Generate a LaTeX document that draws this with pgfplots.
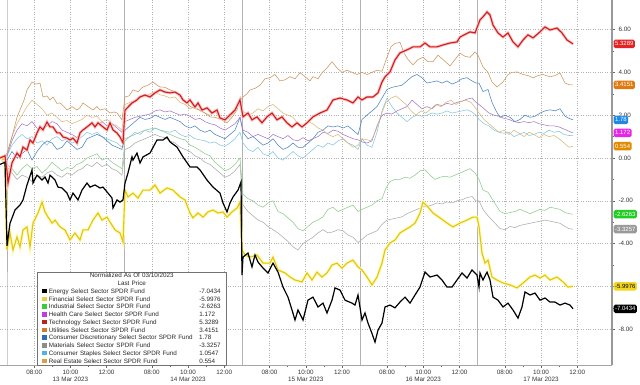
\documentclass[border=0pt]{standalone}
\usepackage{pgfplots}
\pgfplotsset{compat=1.18}
\usepackage{fontspec}
\setmainfont{Liberation Sans}
\definecolor{cEn}{HTML}{000000}
\definecolor{cFi}{HTML}{E2C411}
\definecolor{cIn}{HTML}{8CCB8C}
\definecolor{cHC}{HTML}{A676C8}
\definecolor{cTe}{HTML}{CC1F1F}
\definecolor{cUt}{HTML}{C9955C}
\definecolor{cCD}{HTML}{4A82C6}
\definecolor{cMa}{HTML}{ABABAB}
\definecolor{cCS}{HTML}{86C6E2}
\definecolor{cRE}{HTML}{D8B878}
% legend / tag colours
\definecolor{sEn}{HTML}{000000}
\definecolor{sFi}{HTML}{E8D040}
\definecolor{sIn}{HTML}{3CCB3C}
\definecolor{sHC}{HTML}{C03CE0}
\definecolor{sTe}{HTML}{C0201A}
\definecolor{sUt}{HTML}{D07A30}
\definecolor{sCD}{HTML}{2C6FB8}
\definecolor{sMa}{HTML}{8C8C8C}
\definecolor{sCS}{HTML}{50B4E0}
\definecolor{sRE}{HTML}{D8A040}
\definecolor{tTe}{HTML}{E42323}
\definecolor{tUt}{HTML}{E07A10}
\definecolor{tCD}{HTML}{1E88E5}
\definecolor{tHC}{HTML}{E626E6}
\definecolor{tRE}{HTML}{E08A00}
\definecolor{tIn}{HTML}{22CC22}
\definecolor{tMa}{HTML}{9A9A9A}
\definecolor{tFi}{HTML}{F2D622}
\newcommand{\sq}[1]{\textcolor{#1}{\rule{4.6pt}{4.6pt}}}
\begin{document}
\begin{tikzpicture}
\begin{axis}[
  at={(0pt,0pt)}, anchor=south west,
  scale only axis, width=612pt, height=365pt,
  xmin=0, xmax=612, ymin=-9.67, ymax=7.38,
  axis x line*=bottom, axis y line*=right,
  x axis line style={draw=black!35, line width=0.5pt, -},
  y axis line style={draw=black!40, line width=1.8pt, -},
  clip=false,
  xtick={34.2,70.4,106.6,151.8,188.0,224.2,269.5,305.7,341.9,387.1,423.3,459.5,504.8,541.0,577.2},
  xticklabels={08:00,10:00,12:00,08:00,10:00,12:00,08:00,10:00,12:00,08:00,10:00,12:00,08:00,10:00,12:00},
  minor xtick={52.3,88.5,170,206,287.6,323.8,405.2,441.4,522.9,559.1},
  ytick={-8,-6,-4,-2,0,2,4,6}, minor y tick num=1,
  yticklabels={-8.00,,-4.00,-2.00,0.00,2.00,4.00,6.00},
  tick align=outside, major tick length=2.5pt, minor tick length=1.5pt,
  tick style={black!60, line width=0.4pt},
  xmajorgrids, ymajorgrids,
  major grid style={black!30, dotted, line width=0.6pt},
  tick label style={font=\fontsize{6.3}{7}\selectfont, text=black!80},
  xticklabel style={yshift=1pt},
  yticklabel style={xshift=0.5pt},
]
% day separators
\draw[black!30, line width=0.7pt] (axis cs:7,7.38) -- (axis cs:7,-9.67) -- ++(0,-19pt);
\draw[black!30, line width=0.7pt] (axis cs:124.7,7.38) -- (axis cs:124.7,-9.67) -- ++(0,-19pt);
\draw[black!30, line width=0.7pt] (axis cs:242.3,7.38) -- (axis cs:242.3,-9.67) -- ++(0,-19pt);
\draw[black!30, line width=0.7pt] (axis cs:359.9,7.38) -- (axis cs:359.9,-9.67) -- ++(0,-19pt);
\draw[black!30, line width=0.7pt] (axis cs:477.6,7.38) -- (axis cs:477.6,-9.67) -- ++(0,-19pt);
% Materials
\addplot[cMa, line width=0.55pt] coordinates {
(0,0)(7,-0.4)(12,-0.7)(17,-1.0)(22,-0.8)(27,-0.9)(32,-1.1)(37,-0.8)(42,-0.9)(47,-0.7)(52,-0.6)(57,-0.8)(62,-0.9)(67,-0.7)(72,-0.8)(77,-0.6)(82,-0.5)(87,-0.3)(92,-0.4)(97,-0.2)(102,-0.4)(107,-0.3)(112,-0.5)(117,-0.6)(122,-0.8)
(125,0.4)(130,0.5)(135,0.7)(140,0.8)(145,0.9)(150,1.0)(155,1.1)(160,1.0)(165,0.95)(170,0.8)(175,0.7)(180,0.5)(185,0.4)(190,0.3)(195,0.1)(200,0.0)(205,-0.2)(210,-0.3)(215,-0.5)(220,-0.7)(225,-0.9)(230,-0.8)(235,-0.6)(240,-0.3)
(243,-2.2)(248,-2.5)(253,-2.7)(258,-2.9)(263,-3.0)(268,-3.2)(273,-3.35)(278,-3.5)(283,-3.7)(288,-3.9)(293,-4.15)(298,-4.3)(303,-4.0)(308,-3.85)(313,-3.7)(318,-3.5)(323,-3.35)(328,-3.5)(333,-3.45)(338,-3.35)(343,-3.4)(348,-3.6)(353,-3.7)(358,-3.95)
(362,-3.8)(367,-3.6)(372,-3.5)(377,-3.4)(382,-3.1)(387,-2.9)(392,-2.85)(397,-2.8)(402,-2.75)(407,-2.6)(412,-2.5)(417,-2.4)(422,-2.3)(427,-2.25)(432,-2.2)(437,-2.1)(442,-2.15)(447,-2.05)(452,-2.1)(457,-2.0)(462,-1.95)(467,-1.85)(472,-1.8)(476,-2.0)
(479,-2.0)(483,-2.4)(488,-2.7)(492,-2.9)(496,-3.1)(500,-3.3)(505,-3.35)(510,-3.2)(515,-3.25)(520,-3.15)(525,-3.1)(530,-3.05)(535,-3.0)(540,-2.95)(545,-2.9)(550,-2.95)(555,-3.0)(560,-3.05)(565,-3.2)(569,-3.3)(573,-3.3257)};
% Industrial
\addplot[cIn, line width=0.55pt] coordinates {
(0,0)(7,-0.3)(12,-0.5)(17,-0.8)(22,-0.5)(27,-0.3)(32,-0.5)(37,-0.4)(42,-0.7)(47,-0.5)(52,-0.2)(57,-0.4)(62,-0.6)(67,-0.45)(72,-0.5)(77,-0.3)(82,-0.2)(87,0.0)(92,0.1)(97,0.2)(102,-0.1)(107,0.0)(112,-0.2)(117,-0.35)(122,-0.5)
(125,0.8)(130,1.0)(135,1.1)(140,1.2)(145,1.3)(150,1.35)(155,1.4)(160,1.3)(165,1.2)(170,1.1)(175,1.0)(180,0.9)(185,0.85)(190,0.6)(195,0.5)(200,0.35)(205,0.2)(210,0.1)(215,-0.2)(220,-0.4)(225,-0.6)(230,-0.5)(235,-0.3)(240,0.0)
(243,-1.7)(248,-1.9)(253,-2.0)(258,-2.2)(263,-2.3)(268,-2.1)(273,-2.0)(278,-2.5)(283,-2.6)(288,-2.8)(293,-3.0)(298,-3.3)(303,-3.4)(308,-3.2)(313,-3.0)(318,-2.9)(323,-2.75)(328,-2.4)(333,-2.3)(338,-2.5)(343,-2.4)(348,-2.3)(353,-2.2)(358,-2.5)
(362,-2.4)(367,-2.3)(372,-2.2)(377,-2.0)(382,-1.9)(386,-1.4)(390,-1.1)(395,-1.0)(400,-1.0)(405,-0.9)(410,-0.95)(415,-0.8)(420,-0.6)(425,-0.55)(430,-0.8)(435,-1.0)(440,-0.9)(445,-0.85)(450,-0.9)(455,-0.8)(460,-0.7)(465,-0.6)(470,-0.5)(475,-0.7)
(479,-1.0)(483,-1.5)(488,-1.6)(492,-1.9)(496,-2.2)(500,-2.5)(505,-2.6)(510,-2.55)(515,-2.5)(520,-2.4)(525,-2.5)(530,-2.6)(535,-2.5)(540,-2.4)(545,-2.45)(550,-2.3)(555,-2.35)(560,-2.4)(565,-2.55)(569,-2.6)(573,-2.6263)};
% Consumer Staples
\addplot[cCS, line width=0.55pt] coordinates {
(0,0)(7,0.1)(12,0.6)(17,0.9)(22,1.1)(27,0.9)(32,1.0)(37,0.7)(42,0.8)(47,0.6)(52,0.9)(57,1.0)(62,0.8)(67,0.9)(72,0.7)(77,0.8)(82,1.0)(87,1.2)(92,1.1)(97,1.2)(102,1.0)(107,0.9)(112,0.8)(117,0.7)(122,0.5)
(125,0.9)(130,1.0)(135,1.2)(140,1.1)(145,1.3)(150,1.2)(155,1.4)(160,1.3)(165,1.25)(170,1.2)(175,1.3)(180,1.1)(185,1.0)(190,1.05)(195,0.9)(200,0.85)(205,0.8)(210,0.7)(215,0.75)(220,0.6)(225,0.55)(230,0.7)(235,0.9)(240,1.2)
(243,0.7)(248,0.4)(253,0.3)(258,0.5)(263,0.2)(268,0.1)(273,0.3)(278,0.0)(283,-0.1)(288,0.1)(293,0.3)(298,0.1)(303,0.0)(308,0.2)(313,0.4)(318,0.6)(323,0.5)(328,0.7)(333,0.6)(338,0.8)(343,0.9)(348,0.7)(353,0.6)(358,0.4)
(362,0.9)(367,0.6)(372,0.5)(377,1.2)(382,2.2)(387,2.8)(392,2.4)(397,2.1)(402,1.9)(407,1.7)(412,1.9)(417,2.0)(422,1.95)(427,2.0)(432,2.1)(437,2.05)(442,2.1)(447,2.2)(452,2.1)(457,2.15)(462,2.2)(467,2.25)(472,2.15)(476,2.0)
(479,1.8)(484,1.6)(489,1.5)(494,1.3)(499,1.2)(504,1.15)(509,1.2)(514,1.0)(519,1.1)(524,1.2)(529,1.05)(534,1.1)(539,1.2)(544,1.15)(549,1.3)(554,1.2)(559,1.25)(564,1.1)(569,1.05)(573,1.0547)};
% Consumer Discretionary
\addplot[cCD, line width=0.55pt] coordinates {
(0,0)(7,-0.1)(12,0.3)(17,0.0)(22,0.2)(27,0.4)(32,-0.1)(37,0.3)(42,0.6)(47,0.8)(52,0.7)(57,0.4)(62,0.5)(67,0.8)(72,0.6)(77,0.4)(82,0.5)(87,0.9)(92,1.0)(97,1.1)(102,1.0)(107,0.8)(112,0.6)(117,0.5)(122,0.4)
(125,1.3)(130,1.5)(135,1.7)(140,1.9)(145,1.8)(150,1.85)(155,2.0)(160,1.9)(165,1.8)(170,1.9)(175,1.8)(180,1.7)(185,1.5)(190,1.4)(195,1.5)(200,1.3)(205,1.2)(210,1.3)(215,1.1)(220,1.0)(225,0.9)(230,1.1)(235,1.3)(240,1.9)
(243,1.2)(248,0.9)(253,1.0)(258,0.8)(263,0.6)(268,0.7)(273,0.9)(278,0.6)(283,0.4)(288,0.5)(293,0.7)(298,0.5)(303,0.5)(308,0.7)(313,0.9)(318,1.2)(323,1.3)(328,1.5)(333,1.45)(338,1.5)(343,1.4)(348,1.5)(353,1.3)(358,1.1)
(362,1.8)(367,2.0)(372,2.2)(377,2.4)(382,2.8)(387,3.2)(392,3.3)(397,3.35)(402,3.4)(407,3.6)(412,3.8)(417,3.9)(422,3.75)(427,3.5)(432,3.55)(437,3.6)(442,3.5)(447,3.6)(452,3.45)(457,3.55)(462,3.7)(467,3.75)(472,3.6)(476,3.5)
(479,3.5)(483,3.1)(488,3.2)(492,2.6)(496,2.2)(500,1.9)(505,2.0)(510,1.9)(515,1.7)(520,1.8)(525,2.0)(530,1.9)(535,1.95)(540,2.1)(545,2.2)(550,2.25)(555,2.2)(560,2.3)(565,1.95)(569,1.85)(573,1.78)};
% Health Care
\addplot[cHC, line width=0.55pt] coordinates {
(0,0)(7,0.1)(12,0.8)(17,1.3)(22,1.6)(27,1.5)(32,1.7)(37,1.4)(42,1.3)(47,1.5)(52,1.7)(57,1.6)(62,1.3)(67,1.2)(72,1.1)(77,0.95)(82,1.3)(87,1.5)(92,1.6)(97,1.5)(102,1.7)(107,1.5)(112,1.6)(117,1.4)(122,1.2)
(125,1.7)(130,1.8)(135,1.9)(140,1.95)(145,2.0)(150,2.05)(155,2.2)(160,2.25)(165,2.15)(170,2.2)(175,2.1)(180,2.0)(185,2.05)(190,1.95)(195,1.8)(200,1.85)(205,1.7)(210,1.6)(215,1.55)(220,1.4)(225,1.3)(230,1.45)(235,1.6)(240,1.9)
(243,1.3)(248,1.2)(253,1.0)(258,1.1)(263,1.0)(268,0.9)(273,1.1)(278,1.0)(283,0.9)(288,1.05)(293,0.85)(298,0.8)(303,0.95)(308,0.8)(313,0.9)(318,1.0)(323,1.2)(328,1.15)(333,1.3)(338,1.25)(343,1.1)(348,1.0)(353,0.9)(358,0.85)
(362,0.75)(367,0.7)(372,0.8)(377,1.5)(382,2.0)(387,2.1)(392,2.05)(397,2.2)(402,2.3)(407,2.4)(412,2.7)(417,2.5)(422,2.3)(427,2.4)(432,2.3)(437,2.5)(442,2.45)(447,2.55)(452,2.5)(457,2.6)(462,2.65)(467,2.75)(472,2.8)(476,2.6)
(479,2.5)(484,2.3)(489,2.1)(494,2.0)(499,1.95)(504,1.85)(509,1.8)(514,1.7)(519,1.65)(524,1.7)(529,1.65)(534,1.7)(539,1.6)(544,1.55)(549,1.5)(554,1.5)(559,1.45)(564,1.35)(569,1.25)(573,1.172)};
% Real Estate
\addplot[cRE, line width=0.55pt] coordinates {
(0,0)(7,0.2)(12,1.0)(17,1.6)(22,2.0)(27,2.4)(32,2.7)(37,2.5)(42,2.3)(47,2.0)(52,2.1)(57,1.9)(62,1.7)(67,1.75)(72,1.6)(77,1.7)(82,1.8)(87,2.0)(92,1.9)(97,1.95)(102,1.7)(107,1.8)(112,1.6)(117,1.5)(122,1.3)
(125,2.5)(130,2.6)(135,2.7)(140,2.9)(145,2.85)(150,3.0)(155,3.1)(160,2.95)(165,2.9)(170,2.8)(175,2.85)(180,2.6)(185,2.5)(190,2.3)(195,2.4)(200,2.2)(205,2.1)(210,2.0)(215,2.15)(220,1.9)(225,1.75)(230,1.9)(235,2.2)(240,2.6)
(243,2.2)(248,2.0)(253,2.1)(258,2.3)(263,2.2)(268,2.4)(273,2.5)(278,2.3)(283,2.1)(288,2.0)(293,1.9)(298,1.6)(303,1.5)(308,1.7)(313,1.6)(318,1.4)(323,1.3)(328,1.1)(333,1.0)(338,1.1)(343,0.9)(348,0.7)(353,0.5)(358,0.6)
(362,0.9)(367,0.85)(371,0.8)(376,1.3)(381,2.0)(386,2.6)(391,2.8)(396,2.9)(401,2.7)(406,2.5)(411,2.2)(416,2.0)(421,2.2)(426,2.1)(431,2.3)(436,2.5)(441,2.4)(446,2.6)(451,2.7)(456,2.5)(461,2.65)(466,2.7)(471,2.6)(476,2.3)
(479,2.1)(484,1.8)(489,1.6)(494,1.4)(499,1.2)(504,1.3)(509,1.1)(514,1.3)(519,1.15)(524,1.0)(529,1.2)(534,1.1)(539,0.95)(544,1.1)(549,1.0)(554,1.05)(559,0.9)(564,0.7)(569,0.5)(573,0.554)};
% Utilities
\addplot[cUt, line width=0.55pt] coordinates {
(0,0)(7,0.2)(12,1.0)(17,1.9)(20,2.24)(24,2.7)(27,3.18)(32,3.55)(36,3.45)(40,3.5)(43,2.85)(47,2.9)(50,2.71)(53,2.85)(57,2.55)(60,2.57)(64,2.4)(67,2.24)(72,2.4)(77,2.24)(80,2.35)(83,2.57)(88,2.4)(93,2.24)(97,2.4)(100,2.24)(105,2.3)(110,2.1)(114,2.15)(117,2.1)(122,1.78)
(125,2.85)(129,2.9)(133,3.18)(138,3.1)(143,3.32)(148,3.4)(153,3.55)(157,3.4)(160,3.32)(165,3.3)(170,3.18)(175,3.1)(180,2.85)(185,2.7)(190,2.41)(195,2.3)(200,2.24)(205,2.1)(210,1.92)(215,1.9)(220,1.82)(227,1.64)(232,1.9)(237,2.24)(240,2.7)
(243,2.85)(247,3.0)(250,3.18)(255,3.25)(260,3.4)(265,3.7)(270,3.75)(275,3.9)(280,3.6)(285,3.65)(290,3.8)(295,3.7)(300,3.98)(305,3.8)(310,3.6)(313,3.8)(318,3.7)(322,3.98)(327,4.2)(332,4.5)(337,4.2)(342,4.0)(347,4.1)(352,4.0)(357,3.9)
(362,4.0)(367,3.9)(372,4.0)(377,4.1)(382,4.05)(387,4.7)(391,5.2)(395,5.35)(400,5.4)(404,4.9)(408,4.6)(413,4.35)(418,4.6)(423,4.7)(428,4.5)(433,4.5)(438,4.8)(443,4.6)(450,4.3)(455,4.6)(460,4.9)(465,4.75)(470,4.7)(475,4.95)
(478,4.8)(483,4.25)(488,4.0)(492,3.55)(497,3.32)(503,3.55)(508,3.9)(512,4.0)(517,4.02)(523,3.9)(528,3.85)(533,3.74)(538,3.85)(543,3.9)(550,3.79)(555,3.85)(560,3.97)(565,3.5)(570,3.41)(573,3.4151)};
% Financial
\addplot[cFi, line width=1.1pt, preaction={draw, yellow!30, line width=3pt}] coordinates {
(0,0)(5,-0.1)(7,-4.3)(10,-3.5)(13,-4.3)(17,-3.69)(20,-4.16)(23,-3.36)(27,-3.22)(30,-4.16)(33,-3.04)(38,-2.57)(42,-2.06)(45,-2.52)(48,-2.76)(52,-3.04)(55,-2.9)(60,-3.22)(65,-3.36)(70,-3.83)(75,-3.5)(80,-3.83)(83,-3.36)(88,-3.36)(93,-2.9)(98,-2.57)(102,-2.9)(107,-2.76)(110,-2.99)(115,-3.36)(120,-3.5)(123,-3.93)
(125,-1.5)(128,-1.82)(133,-1.64)(138,-1.87)(143,-1.5)(150,-1.5)(155,-1.26)(160,-1.64)(167,-1.4)(173,-1.5)(180,-1.82)(185,-1.96)(190,-2.57)(193,-2.8)(198,-2.57)(203,-2.76)(208,-2.52)(213,-2.43)(218,-2.57)(223,-2.52)(227,-2.76)(232,-2.52)(237,-2.34)(240,-2.06)
(242,-4.3)(245,-4.53)(250,-4.63)(257,-4.53)(263,-4.91)(270,-4.91)(273,-4.63)(278,-5.23)(285,-5.37)(290,-5.56)(295,-5.7)(302,-5.79)(307,-5.37)(312,-5.7)(317,-5.33)(322,-5.56)(327,-5.37)(332,-5.0)(337,-4.91)(342,-5.14)(347,-4.91)(353,-4.77)(358,-5.09)
(362,-5.23)(367,-5.56)(372,-5.93)(377,-5.56)(382,-4.91)(385,-4.3)(390,-3.97)(395,-3.83)(400,-3.5)(405,-3.36)(410,-3.22)(415,-3.04)(420,-2.57)(423,-2.06)(428,-2.29)(433,-2.57)(440,-2.8)(447,-3.04)(453,-3.22)(460,-3.04)(467,-2.9)(473,-2.76)(477,-2.76)
(479,-3.2)(482,-4.44)(485,-4.91)(488,-4.77)(492,-5.56)(497,-5.7)(503,-5.84)(510,-5.93)(517,-6.07)(523,-5.84)(530,-5.56)(535,-5.47)(540,-5.61)(545,-5.47)(550,-5.7)(557,-5.56)(563,-5.79)(568,-6.03)(573,-5.9976)};
% Technology
\addplot[cTe, line width=1.1pt, preaction={draw, red!25, line width=2.8pt}] coordinates {
(0,0)(5,0.1)(7,-0.6)(8,-1.17)(12,-0.23)(17,0.23)(20,0.05)(23,0.51)(27,0.37)(30,0.84)(33,0.7)(37,1.17)(40,1.45)(43,1.31)(47,1.68)(50,1.45)(53,1.45)(57,1.17)(60,1.17)(63,0.98)(67,0.93)(70,0.84)(73,0.93)(77,0.7)(80,1.17)(83,1.31)(87,1.45)(92,1.64)(95,1.45)(98,1.64)(103,1.45)(107,1.31)(110,1.64)(113,1.31)(117,1.17)(120,0.98)(123,0.7)
(125,2.24)(128,2.38)(132,2.57)(137,2.71)(140,2.85)(145,2.94)(150,2.85)(155,3.04)(160,3.18)(165,3.08)(170,3.04)(175,3.08)(180,2.94)(183,2.71)(187,2.57)(190,2.71)(195,2.38)(198,2.57)(202,2.24)(207,2.34)(212,2.1)(217,2.24)(220,1.87)(225,1.78)(230,2.01)(235,2.24)(240,2.71)
(243,1.92)(248,2.1)(252,1.78)(257,1.92)(262,1.64)(267,1.92)(272,2.1)(277,1.78)(282,1.92)(287,1.64)(292,1.45)(297,1.64)(302,1.45)(307,1.64)(313,1.92)(320,2.1)(327,2.24)(333,2.71)(340,2.8)(347,2.71)(353,2.57)(358,2.85)
(362,2.71)(367,2.85)(373,2.85)(378,3.04)(382,3.55)(385,3.79)(390,4.02)(395,4.58)(400,4.91)(407,5.05)(413,5.19)(420,5.19)(425,5.37)(430,5.19)(437,5.19)(443,5.28)(450,5.37)(457,5.42)(460,5.65)(470,5.89)(475,5.84)
(480,6.45)(483,6.59)(487,6.82)(490,6.68)(493,6.21)(498,5.84)(503,5.65)(508,5.84)(513,5.42)(518,5.19)(523,5.51)(528,5.75)(533,5.61)(540,5.89)(545,6.12)(550,5.98)(557,6.07)(562,5.84)(567,5.51)(573,5.3289)};
% Energy
\addplot[cEn, line width=1.2pt] coordinates {
(0,-0.3)(5,-0.2)(7,-4.1)(10,-3.05)(15,-2.43)(20,-2.2)(23,-1.96)(27,-1.26)(32,-0.56)(33,-1.17)(37,-0.8)(42,-1.03)(45,-0.89)(48,-1.17)(50,-0.8)(55,-1.03)(58,-1.36)(62,-1.4)(67,-1.64)(70,-1.96)(73,-1.64)(78,-1.96)(82,-1.5)(87,-1.17)(90,-1.36)(95,-1.26)(100,-1.4)(103,-1.36)(108,-1.64)(112,-1.87)(113,-2.34)(117,-1.96)(120,-2.06)(123,-1.96)
(125,-1.17)(128,-0.7)(132,0.05)(133,-0.1)(137,0.23)(140,-0.23)(143,0.05)(150,0.23)(157,0.84)(163,0.84)(167,0.98)(170,0.75)(177,0.51)(183,0.05)(190,-0.42)(197,-0.42)(200,-0.56)(207,-1.03)(213,-1.36)(220,-1.64)(223,-2.1)(227,-2.52)(230,-2.1)(233,-1.82)(238,-1.5)(241,-1.12)
(242,-5.47)(243,-4.63)(248,-4.44)(252,-5.09)(255,-4.53)(258,-4.86)(263,-5.14)(268,-5.37)(273,-4.91)(278,-5.33)(283,-6.03)(288,-6.5)(292,-7.1)(295,-7.57)(298,-7.1)(303,-7.57)(308,-6.64)(313,-6.5)(318,-6.96)(323,-6.78)(327,-7.24)(332,-6.64)(335,-6.07)(340,-6.17)(345,-6.64)(352,-6.78)(355,-6.87)(358,-6.4)
(362,-7.57)(365,-7.24)(368,-7.71)(372,-8.2)(375,-8.6)(378,-8.04)(382,-7.71)(385,-6.96)(390,-6.87)(395,-7.0)(400,-6.73)(405,-6.5)(410,-6.78)(415,-6.4)(420,-6.03)(425,-5.33)(430,-5.56)(437,-5.47)(442,-5.7)(447,-6.03)(452,-6.03)(457,-5.7)(462,-5.37)(467,-5.61)(472,-5.23)(477,-5.47)
(479,-6.03)(480,-5.37)(483,-5.7)(487,-5.33)(490,-5.7)(493,-6.5)(498,-6.64)(503,-6.96)(508,-6.78)(513,-7.1)(518,-7.48)(522,-6.96)(525,-6.26)(530,-6.4)(535,-6.31)(540,-6.64)(545,-6.54)(550,-6.73)(555,-6.73)(560,-6.87)(565,-6.78)(570,-6.87)(573,-7.0434)};
% date labels
\node[font=\fontsize{6.3}{7}\selectfont, text=black!80, yshift=-14.5pt] at (axis cs:70.4,-9.67) {13 Mar 2023};
\node[font=\fontsize{6.3}{7}\selectfont, text=black!80, yshift=-14.5pt] at (axis cs:188.0,-9.67) {14 Mar 2023};
\node[font=\fontsize{6.3}{7}\selectfont, text=black!80, yshift=-14.5pt] at (axis cs:305.7,-9.67) {15 Mar 2023};
\node[font=\fontsize{6.3}{7}\selectfont, text=black!80, yshift=-14.5pt] at (axis cs:423.3,-9.67) {16 Mar 2023};
\node[font=\fontsize{6.3}{7}\selectfont, text=black!80, yshift=-14.5pt] at (axis cs:541.0,-9.67) {17 Mar 2023};
\coordinate (lg) at (axis cs:37,-9.67);
\coordinate (pTe) at (axis cs:613.5,5.3289);
\coordinate (pUt) at (axis cs:613.5,3.4151);
\coordinate (pCD) at (axis cs:613.5,1.78);
\coordinate (pHC) at (axis cs:613.5,1.172);
\coordinate (pRE) at (axis cs:613.5,0.554);
\coordinate (pIn) at (axis cs:613.5,-2.6263);
\coordinate (pMa) at (axis cs:613.5,-3.3257);
\coordinate (pFi) at (axis cs:613.5,-5.9976);
\coordinate (pEn) at (axis cs:613.5,-7.0434);
\end{axis}
\begin{scope}[every node/.style={anchor=west, rounded corners=1.6pt, inner xsep=1.4pt, inner ysep=1.2pt, text=white, font=\fontsize{6}{6}\selectfont, minimum height=8.5pt}]
\node[fill=tTe] at (pTe) {5.3289};
\node[fill=tUt] at (pUt) {3.4151};
\node[fill=tCD] at (pCD) {1.78};
\node[fill=tHC] at (pHC) {1.172};
\node[fill=tRE] at (pRE) {0.554};
\node[fill=tIn] at (pIn) {-2.6263};
\node[fill=tMa] at (pMa) {-3.3257};
\node[fill=tFi, text=black] at (pFi) {-5.9976};
\node[fill=black] at (pEn) {-7.0434};
\end{scope}
\node[anchor=south west, draw=black!55, line width=0.5pt, fill=white, inner xsep=0pt, inner ysep=1.5pt, text width=189pt, align=left, font=\fontsize{6.3}{7.75}\selectfont, text=black!85] at (lg) {%
\makebox[189pt][c]{Normalized As Of 03/10/2023}\\
\makebox[189pt][c]{Last Price}\\
\hspace*{5pt}\makebox[157pt][l]{\sq{sEn}\hspace{2pt}Energy Select Sector SPDR Fund}-7.0434\\
\hspace*{5pt}\makebox[157pt][l]{\sq{sFi}\hspace{2pt}Financial Select Sector SPDR Fund}-5.9976\\
\hspace*{5pt}\makebox[157pt][l]{\sq{sIn}\hspace{2pt}Industrial Select Sector SPDR Fund}-2.6263\\
\hspace*{5pt}\makebox[157pt][l]{\sq{sHC}\hspace{2pt}Health Care Select Sector SPDR Fund}1.172\\
\hspace*{5pt}\makebox[157pt][l]{\sq{sTe}\hspace{2pt}Technology Select Sector SPDR Fund}5.3289\\
\hspace*{5pt}\makebox[157pt][l]{\sq{sUt}\hspace{2pt}Utilities Select Sector SPDR Fund}3.4151\\
\hspace*{5pt}\makebox[157pt][l]{\sq{sCD}\hspace{2pt}Consumer Discretionary Select Sector SPDR Fund}1.78\\
\hspace*{5pt}\makebox[157pt][l]{\sq{sMa}\hspace{2pt}Materials Select Sector SPDR Fund}-3.3257\\
\hspace*{5pt}\makebox[157pt][l]{\sq{sCS}\hspace{2pt}Consumer Staples Select Sector SPDR Fund}1.0547\\
\hspace*{5pt}\makebox[157pt][l]{\sq{sRE}\hspace{2pt}Real Estate Select Sector SPDR Fund}0.554};
\pgfresetboundingbox
\useasboundingbox (0pt,-19pt) rectangle (640pt,365pt);
\end{tikzpicture}
\end{document}
